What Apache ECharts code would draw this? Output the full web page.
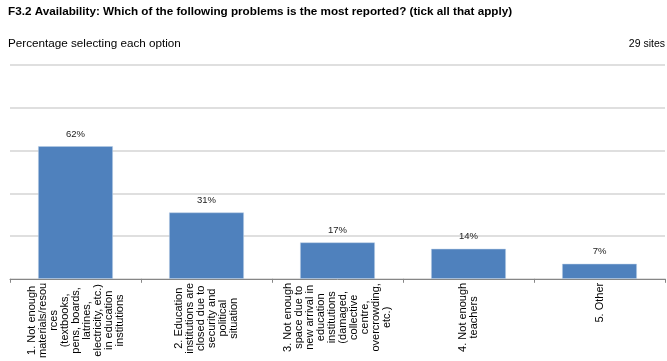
<!DOCTYPE html>
<html><head><meta charset="utf-8">
<script src="https://cdn.jsdelivr.net/npm/echarts@6/dist/echarts.min.js"></script>
<style>html,body{margin:0;padding:0;background:#fff}#c{width:667px;height:361px}</style>
</head><body><div id="c"></div>
<script>
var categories = [
  ["1. Not enough","materials/resou","rces","(textbooks,","pens, boards,","latrines,","electricity, etc.)","in education","institutions"],
  ["2. Education","institutions are","closed due to","security and","political","situation"],
  ["3. Not enough","space due to","new arrival in","education","institutions","(damaged,","collective","centre,","overcrowding,","etc.)"],
  ["4. Not enough","teachers"],
  ["5. Other"]
];
var values = [62, 31, 17, 14, 7];
var titleText = "F3.2 Availability: Which of the following problems is the most reported? (tick all that apply)";
var subtitleText = "Percentage selecting each option";
var sitesText = "29 sites";

var chart = echarts.init(document.getElementById('c'), null, {renderer:'canvas'});
var font = '"Liberation Sans", Arial, sans-serif';
chart.setOption({
  animation: false,
  title: [
    {text: titleText, left: 3, top: 1, textStyle: {fontFamily: font, fontSize: 11.7, fontWeight: 'bold', color: '#000'}},
    {text: subtitleText, left: 3, top: 33, textStyle: {fontFamily: font, fontSize: 11.7, fontWeight: 'normal', color: '#000'}},
    {text: sitesText, right: -3, top: 34, textStyle: {fontFamily: font, fontSize: 10.5, fontWeight: 'normal', color: '#000'}}
  ],
  grid: {left: 10, right: 2, top: 65, bottom: 82, containLabel: false},
  xAxis: {
    type: 'category',
    data: categories.map(function(c){return c.join('\n');}),
    axisLine: {lineStyle: {color: '#868686', width: 1}},
    axisTick: {show: true, length: 4, lineStyle: {color: '#868686'}},
    axisLabel: {
      interval: 0, rotate: 90, margin: 4,
      fontFamily: font, fontSize: 11, color: '#000', lineHeight: 11,
      formatter: function(v){
        return v.split('\n').map(function(l){return '{c|' + l + '}';}).join('\n');
      },
      rich: {c: {align: 'center', fontFamily: font, fontSize: 11, lineHeight: 11, color: '#000'}}
    }
  },
  yAxis: {
    type: 'value', min: 0, max: 100, interval: 20,
    axisLabel: {show: false}, axisLine: {show: false}, axisTick: {show: false},
    splitLine: {lineStyle: {color: '#D4D4D4', width: 1.5}}
  },
  series: [{
    type: 'bar', data: values, barWidth: '57%',
    itemStyle: {color: '#4F81BD', borderColor: '#B9CDE5', borderWidth: 0.5},
    label: {show: true, position: 'top', distance: 7, formatter: '{c}%', fontFamily: font, fontSize: 9.5, color: '#222'}
  }]
});
</script></body></html>
